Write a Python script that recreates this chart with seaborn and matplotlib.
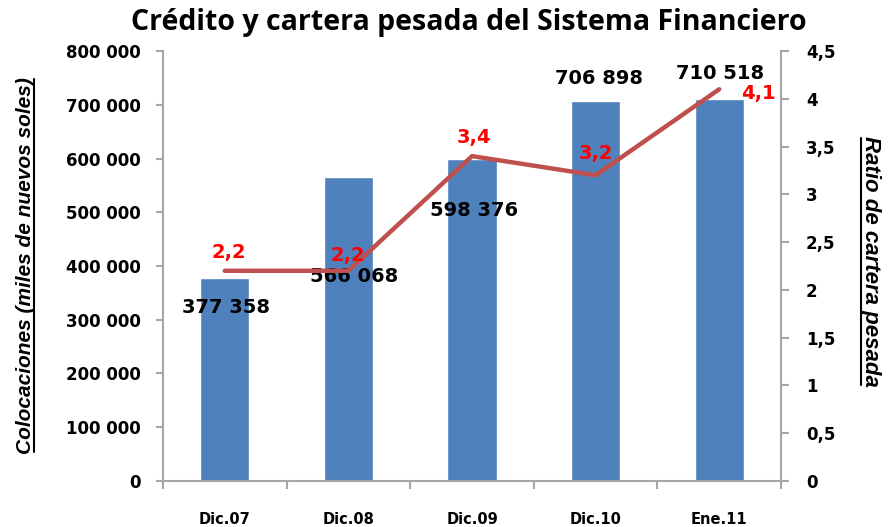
import numpy as np
import pandas as pd
import matplotlib
matplotlib.use("Agg")
import matplotlib.pyplot as plt
from matplotlib.ticker import FuncFormatter, FixedLocator
from matplotlib.lines import Line2D
import seaborn as sns

periods = ['Dic.07', 'Dic.08', 'Dic.09', 'Dic.10', 'Ene.11']
colocaciones = [377358, 566068, 598376, 706898, 710518]
ratio = [2.2, 2.2, 3.4, 3.2, 4.1]

# label offsets (pixels)
bar_lbl_off = [(1, -29), (6, -100), (2, -51), (3, 23), (1, 26)]
ratio_lbl_off = [(4, 18), (-1, 15), (2, 19), (0, 22), (39, -4)]

sns.set_style('white')
plt.rcParams['font.family'] = ['DejaVu Sans']
plt.rcParams['text.color'] = 'black'
plt.rcParams['axes.labelcolor'] = 'black'
plt.rcParams['xtick.labelcolor'] = 'black'
plt.rcParams['ytick.labelcolor'] = 'black'

df = pd.DataFrame({'periodo': periods, 'colocaciones': colocaciones, 'ratio': ratio})

fig = plt.figure(figsize=(8.92, 5.27), dpi=100)
ax = fig.add_axes([0.1827, 0.0873, 0.6929, 0.8159])

sns.barplot(data=df, x='periodo', y='colocaciones', color='#4F81BD',
            saturation=1, width=0.4, ax=ax)
ax.set_ylim(0, 800000)
ax.set_xlim(-0.5, 4.5)
ax.yaxis.set_major_locator(FixedLocator(np.arange(0, 800001, 100000)))
ax.yaxis.set_major_formatter(FuncFormatter(lambda v, p: f'{int(v):,}'.replace(',', ' ')))

ax2 = ax.twinx()
ax2.plot(range(len(ratio)), ratio, color='#C0504D', lw=3.2, solid_capstyle='round')
ax2.set_ylim(0, 4.5)
ax2.yaxis.set_major_locator(FixedLocator(np.arange(0, 4.51, 0.5)))
ax2.yaxis.set_major_formatter(FuncFormatter(lambda v, p: (f'{v:g}').replace('.', ',')))

gray = '#A6A6A6'
for a in (ax, ax2):
    for s in a.spines.values():
        s.set_visible(False)
ax.spines['left'].set_visible(True)
ax.spines['bottom'].set_visible(True)
ax2.spines['right'].set_visible(True)
for s in (ax.spines['left'], ax.spines['bottom'], ax2.spines['right']):
    s.set_color(gray)
    s.set_linewidth(1.5)

ax.tick_params(axis='y', left=True, length=5, width=1.5, color=gray, pad=11,
               labelsize=12, labelcolor='black')
ax2.tick_params(axis='y', right=True, length=6, width=1.5, color=gray, pad=12,
                labelsize=12, labelcolor='black')
ax.set_xticks(range(len(periods)))
ax.set_xticklabels(periods)
ax.tick_params(axis='x', length=0, pad=22, labelsize=10.5, labelcolor='black')
ax.set_xticks(np.arange(-0.5, 5, 1), minor=True)
ax.tick_params(axis='x', which='minor', bottom=True, length=6, width=1.5, color=gray)
for lab in ax.get_yticklabels() + ax2.get_yticklabels() + ax.get_xticklabels():
    lab.set_fontweight('bold')
ax.set_xlabel('')

lab_font = ['Liberation Sans', 'DejaVu Sans']
ylab = ax.set_ylabel('Colocaciones (miles de nuevos soles)', fontsize=15, color='black',
                     fontstyle='italic', fontweight='bold', family=lab_font)
ax.yaxis.set_label_coords(-0.207, 0.502)
ylab2 = ax2.set_ylabel('Ratio de cartera pesada', fontsize=16, fontstyle='italic', color='black',
                       fontweight='bold', rotation=-90, va='center', family=lab_font)
ax2.yaxis.set_label_coords(1.144, 0.51)

for i, v in enumerate(colocaciones):
    ax.annotate(f'{v:,}'.replace(',', ' '), xy=(i, v), xytext=bar_lbl_off[i],
                textcoords='offset pixels', ha='center', va='center',
                fontsize=14, fontweight='bold', color='black')
for i, r in enumerate(ratio):
    ax2.annotate(f'{r:.1f}'.replace('.', ','), xy=(i, r), xytext=ratio_lbl_off[i],
                 textcoords='offset pixels', ha='center', va='center',
                 fontsize=14, fontweight='bold', color='#FF0000')

fig.suptitle('Crédito y cartera pesada del Sistema Financiero', x=0.526, y=0.958,
             va='center', fontsize=20.5, fontweight='bold', color='black',
             family=['Open Sans', 'DejaVu Sans'])

# underline the axis titles
fig.canvas.draw()
r = fig.canvas.get_renderer()
inv = fig.transFigure.inverted()
bb = ylab.get_window_extent(r)
(x0, y0), (x1, y1) = inv.transform([(bb.x1 - 1, bb.y0 + 2), (bb.x1 - 1, bb.y1 - 2)])
fig.add_artist(Line2D([x0, x1], [y0, y1], color='black', lw=1.5))
bb = ylab2.get_window_extent(r)
(x0, y0), (x1, y1) = inv.transform([(bb.x0 + 1, bb.y0 + 2), (bb.x0 + 1, bb.y1 - 2)])
fig.add_artist(Line2D([x0, x1], [y0, y1], color='black', lw=1.5))

fig.savefig('out.png', dpi=100)
